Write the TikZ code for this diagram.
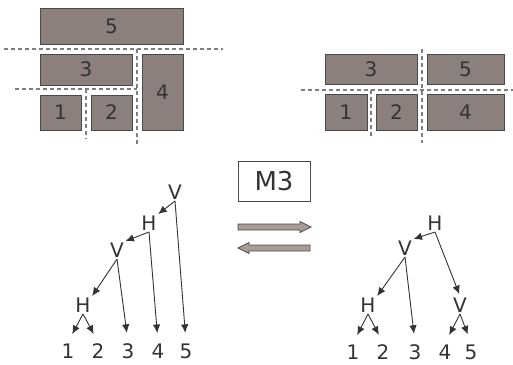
\documentclass[tikz,border=0pt]{standalone}
\usepackage{fontspec}
\setmainfont{DejaVu Sans}
\usetikzlibrary{arrows.meta, positioning}

\definecolor{blkfill}{HTML}{8C807D}
\definecolor{blkline}{HTML}{4A4A4A}
\definecolor{txt}{HTML}{333333}
\definecolor{cutline}{HTML}{7F7F7F}
\definecolor{arrfill}{HTML}{A89C98}

\begin{document}
\begin{tikzpicture}[
    x=1pt, y=-1pt,
    blk/.style={rectangle, draw=blkline, fill=blkfill, line width=1pt, inner sep=0pt, text=txt, font=\fontsize{20}{24}\selectfont},
    cut/.style={draw=cutline, dashed, dash pattern=on 4pt off 3pt, line width=1.3pt},
    lbl/.style={inner sep=1.5pt, text=txt, font=\fontsize{20}{24}\selectfont},
    edge/.style={-{Latex[length=8.5pt, width=7.5pt]}, draw=txt, line width=0.9pt},
    leaf/.style={edge, shorten >=9pt},
    blockarrow/.style={draw=blkline, fill=arrfill, line width=0.8pt}
  ]
    \useasboundingbox (0,0) rectangle (513,364);

    % Left floorplan
    \node[blk, minimum width=143, minimum height=36] (l5) at (111.5,26) {5};
    \node[blk, minimum width=92, minimum height=31] (l3) at (86,69.5) {3};
    \node[blk, minimum width=41, minimum height=76] (l4) at (162.5,92) {4};
    \node[blk, minimum width=41, minimum height=35] (l1) at (60.5,112.5) {1};
    \node[blk, minimum width=41, minimum height=35] (l2) at (111.5,112.5) {2};

    \draw[cut] (4,49) -- (223,49);
    \draw[cut] (137,49) -- (137,144);
    \draw[cut] (15,89) -- (137,89);
    \draw[cut] (86,89) -- (86,139);

    % Right floorplan
    \node[blk, minimum width=92, minimum height=30] (r3) at (371,69) {3};
    \node[blk, minimum width=77, minimum height=30] (r5) at (465.5,69) {5};
    \node[blk, minimum width=42, minimum height=36] (r1) at (346,112) {1};
    \node[blk, minimum width=41, minimum height=36] (r2) at (396.5,112) {2};
    \node[blk, minimum width=77, minimum height=36] (r4) at (465.5,112) {4};

    \draw[cut] (422,49) -- (422,143);
    \draw[cut] (301,90) -- (513,90);
    \draw[cut] (371,90) -- (371,139);

    % Move box and block arrows
    \node[draw=blkline, line width=0.8pt, minimum width=72, minimum height=40, text=txt,
      font=\fontsize{26}{30}\selectfont] (m3) at (274,181) {M3};
    \filldraw[blockarrow] (238,224) -- (300,224) -- (300,221.5) -- (311,227)
      -- (300,232.5) -- (300,230) -- (238,230) -- cycle;
    \filldraw[blockarrow] (310,245) -- (249,245) -- (249,242.5) -- (238,248)
      -- (249,253.5) -- (249,251) -- (310,251) -- cycle;

    % Left slicing tree
    \node[lbl] (lv1) at (175,192) {V};
    \node[lbl] (lh1) at (149,223) {H};
    \node[lbl] (lv2) at (117,250) {V};
    \node[lbl] (lh2) at (83,305) {H};
    \node[lbl] (ld1) at (68,351) {1};
    \node[lbl] (ld2) at (98,351) {2};
    \node[lbl] (ld3) at (128,351) {3};
    \node[lbl] (ld4) at (158,351) {4};
    \node[lbl] (ld5) at (186,351) {5};

    \draw[edge] (lv1.south) -- (lh1.north east);
    \draw[leaf] (lv1.south) -- (ld5.north);
    \draw[edge] (lh1.south) -- (lv2.north east);
    \draw[leaf] (lh1.south) -- (ld4.north);
    \draw[edge] (lv2.south) -- (lh2.north east);
    \draw[leaf] (lv2.south) -- (ld3.north);
    \draw[leaf] (lh2.south) -- (ld1.north);
    \draw[leaf] (lh2.south) -- (ld2.north);

    % Right slicing tree
    \node[lbl] (rh1) at (435,223) {H};
    \node[lbl] (rv1) at (405,248) {V};
    \node[lbl] (rh2) at (368,305) {H};
    \node[lbl] (rv2) at (460,305) {V};
    \node[lbl] (rd1) at (353,352) {1};
    \node[lbl] (rd2) at (383,352) {2};
    \node[lbl] (rd3) at (415,352) {3};
    \node[lbl] (rd4) at (445,352) {4};
    \node[lbl] (rd5) at (471,352) {5};

    \draw[edge] (rh1.south) -- (rv1.north east);
    \draw[edge, shorten >=2pt] (rh1.south) -- (rv2.north);
    \draw[edge] (rv1.south) -- (rh2.north east);
    \draw[leaf] (rv1.south) -- (rd3.north);
    \draw[leaf] (rh2.south) -- (rd1.north);
    \draw[leaf] (rh2.south) -- (rd2.north);
    \draw[leaf] (rv2.south) -- (rd4.north);
    \draw[leaf] (rv2.south) -- (rd5.north);
  \end{tikzpicture}
\end{document}
